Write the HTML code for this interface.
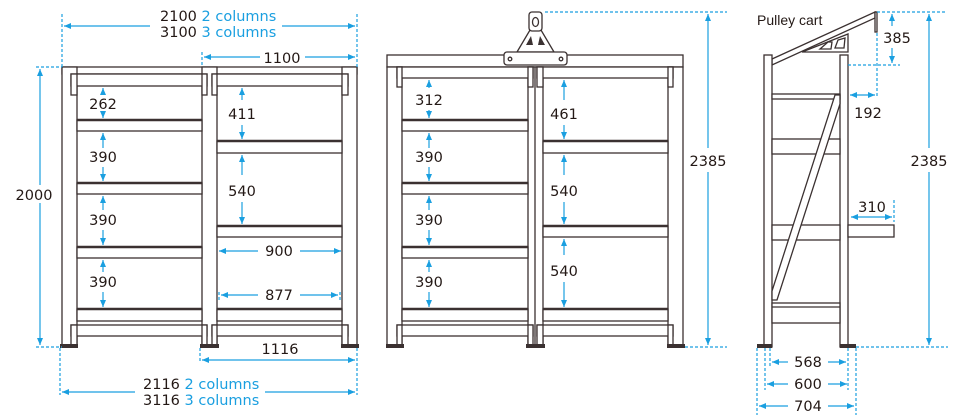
<!DOCTYPE html>
<html><head><meta charset="utf-8"><style>
html,body{margin:0;padding:0;background:#fff;}
svg{display:block;}
text{font-family:"DejaVu Sans","Liberation Sans",sans-serif;font-size:14.5px;fill:#231815;}
.b{fill:#1a9fe0;}
.f{fill:#fff;stroke:#3b3131;stroke-width:1.3;}
.l{stroke:#3b3131;stroke-width:1.3;fill:none;}
.s{stroke:#3b3131;stroke-width:2.6;}
.d{stroke:#1a9fe0;stroke-width:1.2;fill:none;}
.dd{stroke:#1a9fe0;stroke-width:1.2;stroke-dasharray:3 2;fill:none;}
</style></head><body>
<svg width="980" height="420" viewBox="0 0 980 420" xmlns="http://www.w3.org/2000/svg">
<defs>
<marker id="a" markerWidth="8" markerHeight="8" refX="7" refY="4" orient="auto-start-reverse" markerUnits="userSpaceOnUse"><path d="M0,1 L7,4 L0,7z" fill="#1a9fe0"/></marker>
</defs>

<g>
<rect class="f" x="62" y="67" width="295" height="7"/>
<rect class="f" x="62" y="67" width="15" height="280"/>
<rect class="f" x="202" y="67" width="15" height="280"/>
<rect class="f" x="342" y="67" width="15" height="280"/>
<rect class="f" x="71" y="74" width="136" height="12"/><rect class="f" x="71" y="74" width="6" height="21"/><rect class="f" x="202" y="74" width="5" height="21"/>
<rect class="f" x="212" y="74" width="136" height="12"/><rect class="f" x="212" y="74" width="5" height="21"/><rect class="f" x="342" y="74" width="6" height="21"/>
<rect class="f" x="77" y="120" width="125" height="11"/><line class="s" x1="77" y1="120" x2="202" y2="120"/>
<rect class="f" x="77" y="183" width="125" height="11"/><line class="s" x1="77" y1="183" x2="202" y2="183"/>
<rect class="f" x="77" y="247" width="125" height="11"/><line class="s" x1="77" y1="247" x2="202" y2="247"/>
<rect class="f" x="77" y="309" width="125" height="12"/><line class="s" x1="77" y1="309" x2="202" y2="309"/>
<rect class="f" x="217" y="141" width="125" height="12"/><line class="s" x1="217" y1="141" x2="342" y2="141"/>
<rect class="f" x="217" y="226" width="125" height="11"/><line class="s" x1="217" y1="226" x2="342" y2="226"/>
<rect class="f" x="217" y="309" width="125" height="12"/><line class="s" x1="217" y1="309" x2="342" y2="309"/>
<rect class="f" x="71" y="325" width="136" height="11"/><rect class="f" x="71" y="325" width="6" height="20"/><rect class="f" x="202" y="325" width="5" height="20"/>
<rect class="f" x="212" y="325" width="136" height="11"/><rect class="f" x="212" y="325" width="5" height="20"/><rect class="f" x="342" y="325" width="6" height="20"/>
<rect x="60" y="344" width="18" height="4" fill="#3b3131"/><rect x="200" y="344" width="19" height="4" fill="#3b3131"/><rect x="341" y="344" width="18" height="4" fill="#3b3131"/>
</g>

<line class="dd" x1="62" y1="14" x2="62" y2="67"/><line class="dd" x1="357" y1="14" x2="357" y2="67"/>
<line class="d" x1="64" y1="26" x2="150" y2="26" marker-start="url(#a)"/><line class="d" x1="282" y1="26" x2="355" y2="26" marker-end="url(#a)"/>
<text x="160" y="21">2100 <tspan class="b">2 columns</tspan></text>
<text x="160" y="37">3100 <tspan class="b">3 columns</tspan></text>
<line class="dd" x1="202" y1="52" x2="202" y2="67"/>
<line class="d" x1="204" y1="57" x2="260" y2="57" marker-start="url(#a)"/><line class="d" x1="305" y1="57" x2="355" y2="57" marker-end="url(#a)"/>
<text x="282" y="63" text-anchor="middle">1100</text>
<line class="dd" x1="36" y1="67" x2="62" y2="67"/><line class="dd" x1="36" y1="347" x2="62" y2="347"/>
<line class="d" x1="40" y1="69" x2="40" y2="345" marker-start="url(#a)" marker-end="url(#a)"/>
<rect x="12" y="185" width="44" height="18" fill="#fff"/>
<text x="34" y="200" text-anchor="middle">2000</text>

<line class="d" x1="103" y1="88" x2="103" y2="94" marker-start="url(#a)"/><text x="103" y="109" text-anchor="middle">262</text><line class="d" x1="103" y1="112" x2="103" y2="118" marker-end="url(#a)"/>
<line class="d" x1="103" y1="133" x2="103" y2="148" marker-start="url(#a)"/><text x="103" y="162" text-anchor="middle">390</text><line class="d" x1="103" y1="167" x2="103" y2="181" marker-end="url(#a)"/>
<line class="d" x1="103" y1="196" x2="103" y2="210" marker-start="url(#a)"/><text x="103" y="225" text-anchor="middle">390</text><line class="d" x1="103" y1="230" x2="103" y2="245" marker-end="url(#a)"/>
<line class="d" x1="103" y1="260" x2="103" y2="272" marker-start="url(#a)"/><text x="103" y="287" text-anchor="middle">390</text><line class="d" x1="103" y1="292" x2="103" y2="307" marker-end="url(#a)"/>
<line class="d" x1="242" y1="88" x2="242" y2="100" marker-start="url(#a)"/><text x="242" y="119" text-anchor="middle">411</text><line class="d" x1="242" y1="125" x2="242" y2="139" marker-end="url(#a)"/>
<line class="d" x1="242" y1="155" x2="242" y2="175" marker-start="url(#a)"/><text x="242" y="196" text-anchor="middle">540</text><line class="d" x1="242" y1="202" x2="242" y2="224" marker-end="url(#a)"/>
<line class="d" x1="219" y1="251" x2="258" y2="251" marker-start="url(#a)"/><text x="279" y="256" text-anchor="middle">900</text><line class="d" x1="300" y1="251" x2="341" y2="251" marker-end="url(#a)"/>
<line class="dd" x1="219" y1="292" x2="219" y2="300"/><line class="dd" x1="340" y1="292" x2="340" y2="300"/>
<line class="d" x1="221" y1="295" x2="258" y2="295" marker-start="url(#a)"/><text x="279" y="300" text-anchor="middle">877</text><line class="d" x1="300" y1="295" x2="338" y2="295" marker-end="url(#a)"/>
<line class="dd" x1="200" y1="348" x2="200" y2="362"/><line class="dd" x1="357" y1="348" x2="357" y2="395"/>
<line class="d" x1="202" y1="360" x2="355" y2="360" marker-start="url(#a)" marker-end="url(#a)"/>
<text x="280" y="354" text-anchor="middle">1116</text>
<line class="dd" x1="60" y1="348" x2="60" y2="395"/>
<line class="d" x1="62" y1="392" x2="135" y2="392" marker-start="url(#a)"/><line class="d" x1="265" y1="392" x2="355" y2="392" marker-end="url(#a)"/>
<text x="143" y="389">2116 <tspan class="b">2 columns</tspan></text>
<text x="143" y="405">3116 <tspan class="b">3 columns</tspan></text>

<g>
<rect class="f" x="387" y="55" width="296" height="12"/>
<rect class="f" x="387" y="67" width="15" height="280"/>
<rect class="f" x="528" y="67" width="15" height="280"/><line class="l" x1="535" y1="67" x2="535" y2="347"/>
<rect class="f" x="668" y="67" width="15" height="280"/>
<rect class="f" x="397" y="67" width="136" height="11"/><rect class="f" x="397" y="67" width="5" height="20"/><rect class="f" x="528" y="67" width="5" height="20"/>
<rect class="f" x="537" y="67" width="136" height="11"/><rect class="f" x="537" y="67" width="6" height="20"/><rect class="f" x="668" y="67" width="5" height="20"/>
<rect class="f" x="402" y="120" width="126" height="11"/><line class="s" x1="402" y1="120" x2="528" y2="120"/>
<rect class="f" x="402" y="183" width="126" height="11"/><line class="s" x1="402" y1="183" x2="528" y2="183"/>
<rect class="f" x="402" y="247" width="126" height="11"/><line class="s" x1="402" y1="247" x2="528" y2="247"/>
<rect class="f" x="402" y="309" width="126" height="12"/><line class="s" x1="402" y1="309" x2="528" y2="309"/>
<rect class="f" x="543" y="141" width="125" height="12"/><line class="s" x1="543" y1="141" x2="668" y2="141"/>
<rect class="f" x="543" y="226" width="125" height="11"/><line class="s" x1="543" y1="226" x2="668" y2="226"/>
<rect class="f" x="543" y="309" width="125" height="12"/><line class="s" x1="543" y1="309" x2="668" y2="309"/>
<rect class="f" x="397" y="325" width="136" height="11"/><rect class="f" x="397" y="325" width="5" height="20"/><rect class="f" x="528" y="325" width="5" height="20"/>
<rect class="f" x="537" y="325" width="136" height="11"/><rect class="f" x="537" y="325" width="6" height="20"/><rect class="f" x="668" y="325" width="5" height="20"/>
<rect x="386" y="344" width="18" height="4" fill="#3b3131"/><rect x="526" y="344" width="19" height="4" fill="#3b3131"/><rect x="667" y="344" width="18" height="4" fill="#3b3131"/>
<path class="f" d="M517,52 L530,30 L541,30 L554,52 Z"/>
<path d="M526,45 L531,36 L533,45Z M538,45 L540,36 L545,45Z" fill="#3b3131"/>
<rect class="f" x="529" y="12" width="13" height="19" rx="3"/>
<ellipse cx="535.5" cy="22" rx="3" ry="4.5" class="l"/>
<rect class="f" x="504" y="52" width="63" height="13" rx="3"/>
<circle cx="510" cy="59" r="1.8" class="l"/><circle cx="561" cy="59" r="1.8" class="l"/>
</g>
<line class="d" x1="429" y1="80" x2="429" y2="88" marker-start="url(#a)"/><text x="429" y="105" text-anchor="middle">312</text><line class="d" x1="429" y1="110" x2="429" y2="118" marker-end="url(#a)"/>
<line class="d" x1="429" y1="133" x2="429" y2="148" marker-start="url(#a)"/><text x="429" y="162" text-anchor="middle">390</text><line class="d" x1="429" y1="167" x2="429" y2="181" marker-end="url(#a)"/>
<line class="d" x1="429" y1="196" x2="429" y2="210" marker-start="url(#a)"/><text x="429" y="225" text-anchor="middle">390</text><line class="d" x1="429" y1="230" x2="429" y2="245" marker-end="url(#a)"/>
<line class="d" x1="429" y1="260" x2="429" y2="272" marker-start="url(#a)"/><text x="429" y="287" text-anchor="middle">390</text><line class="d" x1="429" y1="292" x2="429" y2="307" marker-end="url(#a)"/>
<line class="d" x1="564" y1="80" x2="564" y2="100" marker-start="url(#a)"/><text x="564" y="119" text-anchor="middle">461</text><line class="d" x1="564" y1="125" x2="564" y2="139" marker-end="url(#a)"/>
<line class="d" x1="564" y1="155" x2="564" y2="175" marker-start="url(#a)"/><text x="564" y="196" text-anchor="middle">540</text><line class="d" x1="564" y1="202" x2="564" y2="224" marker-end="url(#a)"/>
<line class="d" x1="564" y1="239" x2="564" y2="255" marker-start="url(#a)"/><text x="564" y="276" text-anchor="middle">540</text><line class="d" x1="564" y1="282" x2="564" y2="307" marker-end="url(#a)"/>
<line class="dd" x1="545" y1="12" x2="727" y2="12"/><line class="dd" x1="685" y1="347" x2="727" y2="347"/>
<line class="d" x1="708" y1="14" x2="708" y2="148" marker-start="url(#a)"/><text x="708" y="166" text-anchor="middle">2385</text><line class="d" x1="708" y1="172" x2="708" y2="345" marker-end="url(#a)"/>

<text x="757" y="25" style="font-family:'Liberation Sans',sans-serif;font-size:14px">Pulley cart</text>
<g>
<path class="f" d="M772,59 L875,12 L875,18 L772,65 Z"/>
<rect class="f" x="875" y="12" width="2" height="20"/>
<path class="f" d="M802,52 L848,34 L848,52 Z"/>
<path class="l" d="M820,49 L828,42 L832,42 L831,49Z M835,48 L838,40 L845,38 L844,48Z"/>
<rect class="f" x="764" y="55" width="8" height="292"/>
<rect class="f" x="840" y="55" width="8" height="292"/>
<rect class="f" x="772" y="94" width="68" height="5"/>
<rect class="f" x="772" y="139" width="68" height="15"/>
<rect class="f" x="772" y="225" width="68" height="15"/>
<rect class="f" x="848" y="225" width="46" height="12"/>
<rect class="f" x="772" y="303" width="68" height="20"/><line class="l" x1="772" y1="307" x2="840" y2="307"/>
<path class="f" d="M835,95 L840,95 L840,104 L777,300 L772,300 L772,291 Z"/>
<rect x="757" y="344" width="15" height="4" fill="#3b3131"/><rect x="840" y="344" width="16" height="4" fill="#3b3131"/>
</g>
<line class="dd" x1="877" y1="12" x2="947" y2="12"/><line class="dd" x1="848" y1="65" x2="900" y2="65"/>
<line class="d" x1="892" y1="14" x2="892" y2="26" marker-start="url(#a)"/><text x="897" y="43" text-anchor="middle">385</text><line class="d" x1="892" y1="48" x2="892" y2="63" marker-end="url(#a)"/>
<line class="dd" x1="877" y1="33" x2="877" y2="98"/>
<line class="d" x1="850" y1="95" x2="875" y2="95" marker-start="url(#a)" marker-end="url(#a)"/>
<text x="868" y="118" text-anchor="middle">192</text>
<line class="d" x1="929" y1="14" x2="929" y2="148" marker-start="url(#a)"/><text x="929" y="166" text-anchor="middle">2385</text><line class="d" x1="929" y1="172" x2="929" y2="345" marker-end="url(#a)"/>
<line class="dd" x1="856" y1="347" x2="948" y2="347"/>
<line class="dd" x1="894" y1="200" x2="894" y2="222"/>
<line class="d" x1="851" y1="217" x2="892" y2="217" marker-start="url(#a)" marker-end="url(#a)"/>
<text x="872" y="212" text-anchor="middle">310</text>
<line class="dd" x1="757" y1="348" x2="757" y2="415"/><line class="dd" x1="765" y1="348" x2="765" y2="390"/><line class="dd" x1="770" y1="348" x2="770" y2="368"/>
<line class="dd" x1="848" y1="348" x2="848" y2="390"/><line class="dd" x1="856" y1="348" x2="856" y2="415"/>
<line class="d" x1="772" y1="362" x2="788" y2="362" marker-start="url(#a)"/><text x="808" y="367" text-anchor="middle">568</text><line class="d" x1="828" y1="362" x2="846" y2="362" marker-end="url(#a)"/>
<line class="d" x1="767" y1="384" x2="788" y2="384" marker-start="url(#a)"/><text x="808" y="389" text-anchor="middle">600</text><line class="d" x1="828" y1="384" x2="847" y2="384" marker-end="url(#a)"/>
<line class="d" x1="759" y1="406" x2="788" y2="406" marker-start="url(#a)"/><text x="808" y="411" text-anchor="middle">704</text><line class="d" x1="828" y1="406" x2="854" y2="406" marker-end="url(#a)"/>
</svg>
</body></html>
